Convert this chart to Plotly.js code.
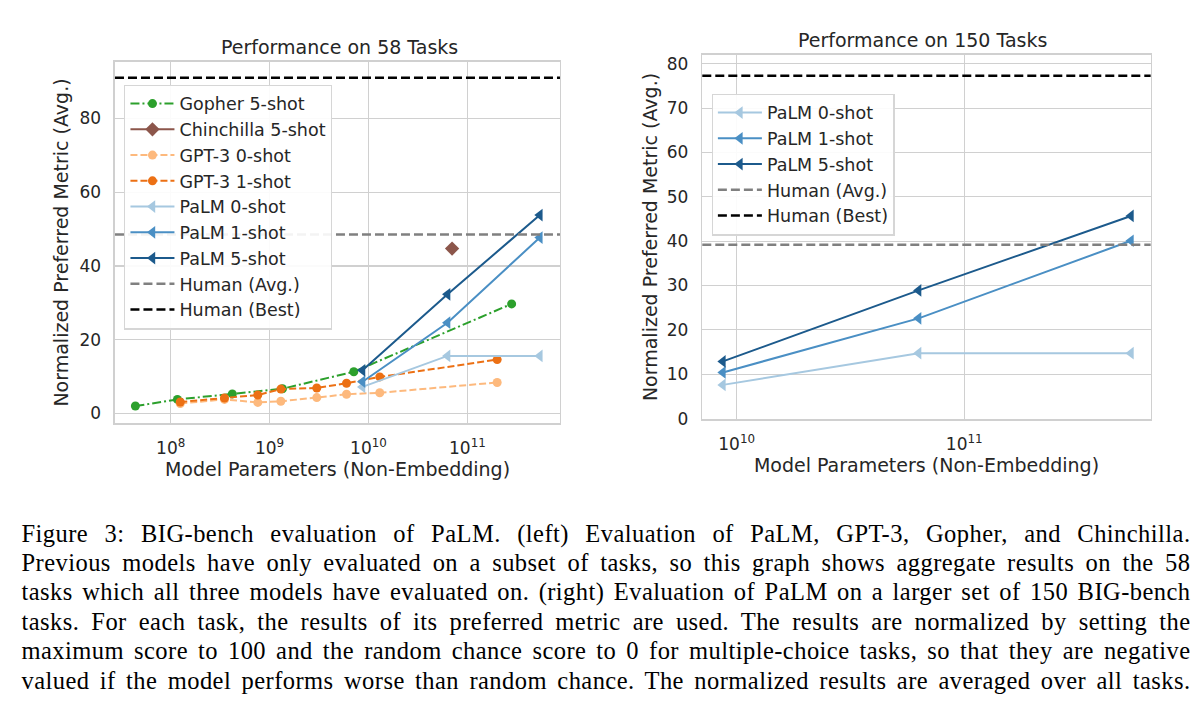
<!DOCTYPE html>
<html>
<head>
<meta charset="utf-8">
<script src="https://cdn.plot.ly/plotly-3.0.1.min.js"></script>
<style>
  html, body { margin: 0; padding: 0; background: #fff; }
  #wrap { position: relative; width: 1204px; height: 702px; overflow: hidden; }
  #chart { position: absolute; left: 0; top: 0; width: 1204px; height: 702px; }
  #caption { position: absolute; left: 21.5px; top: 518.5px; width: 1169px;
    font-family: "Liberation Serif", "Times New Roman", serif; font-size: 24.5px;
    line-height: 29.4px; color: #000; letter-spacing: 0.45px; }
  #caption div { text-align: justify; text-align-last: justify; white-space: nowrap; }
</style>
</head>
<body>
<div id="wrap">
  <div id="chart"></div>
  <div id="caption"></div>
</div>
<script>
// ---------------- Data ----------------
// Left panel: Performance on 58 Tasks
const gopherParams   = [4.4e7, 1.17e8, 4.2e8, 1.35e9, 7.1e9, 2.8e11];
const gopher5shot    = [2.0, 3.8, 5.3, 6.7, 11.3, 29.7];
const chinchillaParams = [7.0e10];
const chinchilla5shot  = [44.7];
const gpt3Params     = [1.25e8, 3.5e8, 7.6e8, 1.3e9, 3.0e9, 6.0e9, 1.3e10, 2.0e11];
const gpt3_0shot     = [2.7, 3.8, 3.0, 3.3, 4.3, 5.2, 5.6, 8.4];
const gpt3_1shot     = [3.1, 4.2, 5.0, 6.6, 6.9, 8.2, 9.9, 14.6];
const palmParams     = [8.7e9, 6.3e10, 5.4e11];
const palm58_0shot   = [7.2, 15.6, 15.6];
const palm58_1shot   = [8.6, 24.6, 47.7];
const palm58_5shot   = [11.7, 32.3, 53.8];
const human58Avg     = 48.5;
const human58Best    = 91.0;
// Right panel: Performance on 150 Tasks
const palm150_0shot  = [7.6, 14.75, 14.75];
const palm150_1shot  = [10.4, 22.6, 40.1];
const palm150_5shot  = [12.9, 28.9, 45.7];
const human150Avg    = 39.2;
const human150Best   = 77.3;

// Ticks / labels
const leftXTickVals  = [1e8, 1e9, 1e10, 1e11];
const leftXTickText  = ["10<sup>8</sup>", "10<sup>9</sup>", "10<sup>10</sup>", "10<sup>11</sup>"];
const rightXTickVals = [1e10, 1e11];
const rightXTickText = ["10<sup>10</sup>", "10<sup>11</sup>"];
const leftYTicks     = [0, 20, 40, 60, 80];
const rightYTicks    = [0, 10, 20, 30, 40, 50, 60, 70, 80];
const leftTitle  = "Performance on 58 Tasks";
const rightTitle = "Performance on 150 Tasks";
const xTitle = "Model Parameters (Non-Embedding)";
const yTitle = "Normalized Preferred Metric (Avg.)";

const captionLines = [
  "Figure 3:  BIG-bench evaluation of PaLM. (left) Evaluation of PaLM, GPT-3, Gopher, and Chinchilla.",
  "Previous models have only evaluated on a subset of tasks, so this graph shows aggregate results on the 58",
  "tasks which all three models have evaluated on. (right) Evaluation of PaLM on a larger set of 150 BIG-bench",
  "tasks. For each task, the results of its preferred metric are used. The results are normalized by setting the",
  "maximum score to 100 and the random chance score to 0 for multiple-choice tasks, so that they are negative",
  "valued if the model performs worse than random chance. The normalized results are averaged over all tasks."
];

// ---------------- Styles ----------------
const C = {
  gopher: "#2ca02c", chin: "#8c564b", gpt0: "#fdb97d", gpt1: "#ec7014",
  palm0: "#a6c8e0", palm1: "#4a8fc4", palm5: "#1c5a8c",
  hAvg: "#808080", hBest: "#000000", grid: "#d0d0d0", text: "#262626"
};
const FONT = "DejaVu Sans, Verdana, sans-serif";

function tr(x, y, name, color, opts) {
  return Object.assign({
    x: x, y: y, name: name, type: "scatter", mode: "lines+markers",
    line: { color: color, width: 2 },
    marker: { color: color, size: 9, symbol: "circle" },
    cliponaxis: false
  }, opts);
}

const traces = [
  tr(gopherParams, gopher5shot, "Gopher 5-shot", C.gopher,
     { line: { color: C.gopher, width: 2, dash: "9px,3px,2px,3px" }, legend: "legend" }),
  tr(chinchillaParams, chinchilla5shot, "Chinchilla 5-shot", C.chin,
     { marker: { color: C.chin, size: 11, symbol: "diamond" }, legend: "legend" }),
  tr(gpt3Params, gpt3_0shot, "GPT-3 0-shot", C.gpt0,
     { line: { color: C.gpt0, width: 2, dash: "7px,3px" }, legend: "legend" }),
  tr(gpt3Params, gpt3_1shot, "GPT-3 1-shot", C.gpt1,
     { line: { color: C.gpt1, width: 2, dash: "7px,3px" }, legend: "legend" }),
  tr(palmParams, palm58_0shot, "PaLM 0-shot", C.palm0,
     { marker: { color: C.palm0, size: 11, symbol: "triangle-left" }, legend: "legend" }),
  tr(palmParams, palm58_1shot, "PaLM 1-shot", C.palm1,
     { marker: { color: C.palm1, size: 11, symbol: "triangle-left" }, legend: "legend" }),
  tr(palmParams, palm58_5shot, "PaLM 5-shot", C.palm5,
     { marker: { color: C.palm5, size: 11, symbol: "triangle-left" }, legend: "legend" }),
  tr(palmParams, palm150_0shot, "PaLM 0-shot", C.palm0,
     { marker: { color: C.palm0, size: 11, symbol: "triangle-left" }, xaxis: "x2", yaxis: "y2", legend: "legend2" }),
  tr(palmParams, palm150_1shot, "PaLM 1-shot", C.palm1,
     { marker: { color: C.palm1, size: 11, symbol: "triangle-left" }, xaxis: "x2", yaxis: "y2", legend: "legend2" }),
  tr(palmParams, palm150_5shot, "PaLM 5-shot", C.palm5,
     { marker: { color: C.palm5, size: 11, symbol: "triangle-left" }, xaxis: "x2", yaxis: "y2", legend: "legend2" })
];

function hline(xref, yref, yv, color, name, legend) {
  return {
    type: "line", xref: xref + " domain", yref: yref, x0: 0, x1: 1, y0: yv, y1: yv,
    line: { color: color, width: 2.5, dash: "9px,4px" }, layer: "above",
    showlegend: true, name: name, legend: legend
  };
}
const shapes = [
  hline("x", "y", human58Avg, C.hAvg, "Human (Avg.)", "legend"),
  hline("x", "y", human58Best, C.hBest, "Human (Best)", "legend"),
  hline("x2", "y2", human150Avg, C.hAvg, "Human (Avg.)", "legend2"),
  hline("x2", "y2", human150Best, C.hBest, "Human (Best)", "legend2")
];

const axisCommon = {
  showgrid: true, gridcolor: C.grid, gridwidth: 1.2, zeroline: false,
  showline: true, linecolor: C.grid, linewidth: 1.5, mirror: true,
  ticks: "", tickfont: { family: FONT, size: 17, color: C.text },
  ticklabelstandoff: 9, automargin: false
};
const legendCommon = {
  bgcolor: "rgba(255,255,255,0.9)", bordercolor: "#d6d6d6", borderwidth: 1.2,
  font: { family: FONT, size: 17.5, color: C.text }, xanchor: "left", yanchor: "top",
  itemwidth: 44, tracegroupgap: 0
};

const layout = {
  width: 1204, height: 702,
  margin: { l: 0, r: 0, t: 0, b: 0 },
  paper_bgcolor: "#ffffff", plot_bgcolor: "#ffffff",
  showlegend: true,
  font: { family: FONT, color: C.text },
  xaxis: Object.assign({}, axisCommon, {
    domain: [0.0955, 0.4651], type: "log", range: [7.437, 11.936],
    tickvals: leftXTickVals, ticktext: leftXTickText, anchor: "y",
    title: { text: xTitle, font: { family: FONT, size: 19, color: C.text }, standoff: 3 }
  }),
  yaxis: Object.assign({}, axisCommon, {
    domain: [0.3974, 0.9117], range: [-2.6, 95.3], tickvals: leftYTicks, anchor: "x",
    title: { text: yTitle, font: { family: FONT, size: 19, color: C.text }, standoff: 6 }
  }),
  xaxis2: Object.assign({}, axisCommon, {
    domain: [0.5833, 0.9557], type: "log", range: [9.849, 11.819],
    tickvals: rightXTickVals, ticktext: rightXTickText, anchor: "y2",
    title: { text: xTitle, font: { family: FONT, size: 19, color: C.text }, standoff: 2 }
  }),
  yaxis2: Object.assign({}, axisCommon, {
    domain: [0.4031, 0.9217], range: [-0.1, 82], tickvals: rightYTicks, anchor: "x2",
    title: { text: yTitle, font: { family: FONT, size: 19, color: C.text }, standoff: 4 }
  }),
  legend: Object.assign({}, legendCommon, { x: 0.1032, y: 0.8796 }),
  legend2: Object.assign({}, legendCommon, { x: 0.5911, y: 0.8668 }),
  shapes: shapes,
  annotations: [
    { text: leftTitle, xref: "paper", yref: "paper", x: 0.2816, y: 0.933,
      xanchor: "center", yanchor: "middle", showarrow: false,
      font: { family: FONT, size: 19, color: C.text } },
    { text: rightTitle, xref: "paper", yref: "paper", x: 0.7666, y: 0.943,
      xanchor: "center", yanchor: "middle", showarrow: false,
      font: { family: FONT, size: 19, color: C.text } }
  ]
};

Plotly.newPlot("chart", traces, layout, { displayModeBar: false, staticPlot: true });

const cap = document.getElementById("caption");
captionLines.forEach(function (t) {
  const d = document.createElement("div");
  d.textContent = t;
  cap.appendChild(d);
});
</script>
</body>
</html>
